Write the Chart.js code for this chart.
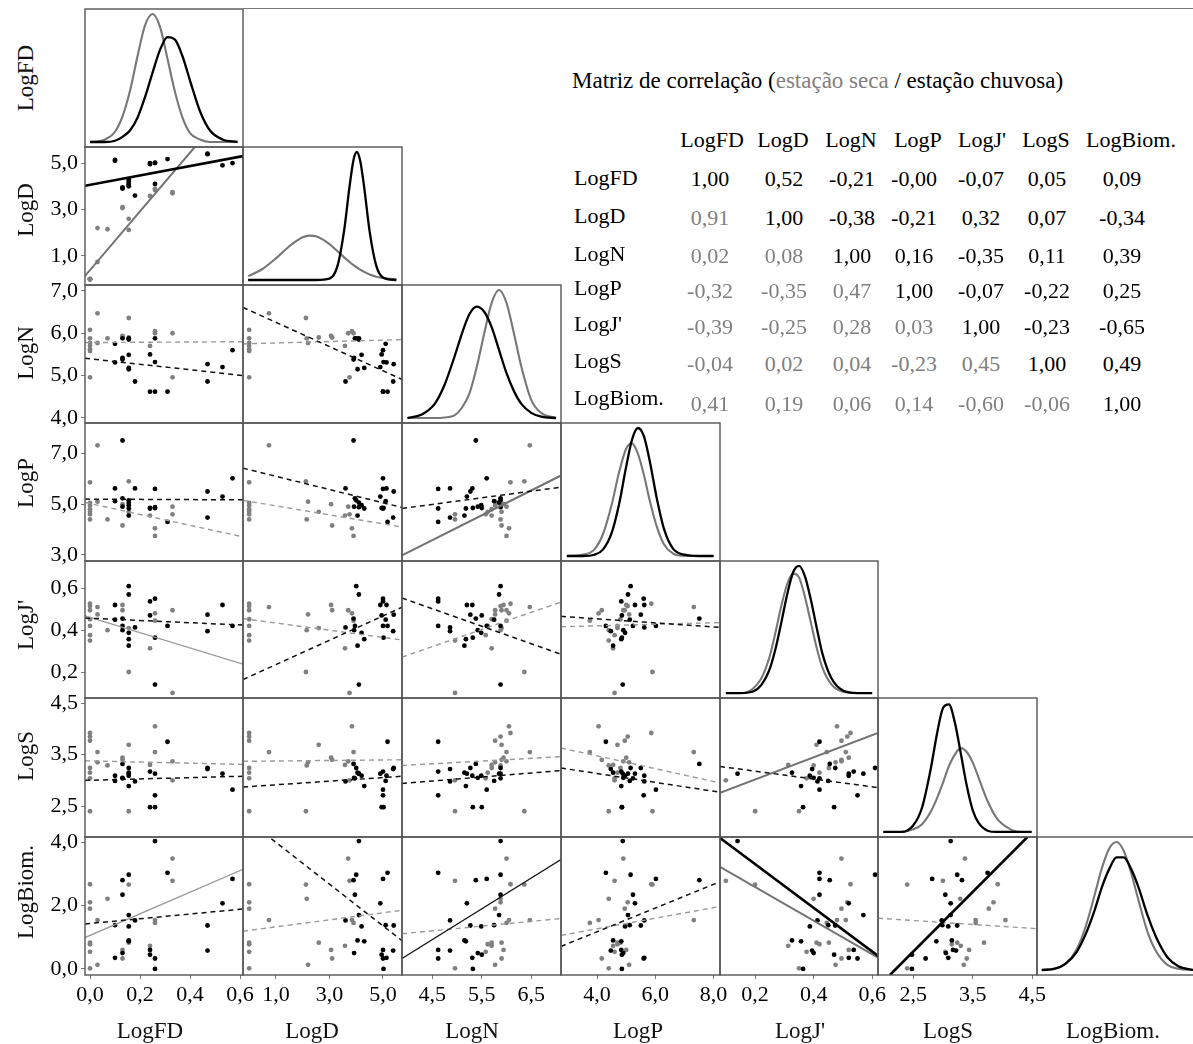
<!DOCTYPE html>
<html lang="pt">
<head>
<meta charset="utf-8">
<title>Matriz de correlação</title>
<script src="https://cdn.jsdelivr.net/npm/chart.js@4.4.1/dist/chart.umd.min.js"></script>
<style>
  html, body { margin: 0; padding: 0; background: #fff; }
  body { position: relative; width: 1193px; height: 1044px; overflow: hidden;
         font-family: 'Liberation Serif', 'Times New Roman', serif; color: #000; }
  canvas { position: absolute; }
  .txt { position: absolute; white-space: nowrap; line-height: 1; }
</style>
</head>
<body>
<script>
const variaveis = ['LogFD', 'LogD', 'LogN', 'LogP', "LogJ'", 'LogS', 'LogBiom.'];

// estação seca (cinza)
const fdSeca   = [0, 0, 0, 0, 0, 0, 0, 0.03, 0.03, 0.07, 0.13, 0.13, 0.155, 0.155, 0.24, 0.26, 0.26, 0.33, 0.33];
const dSeca    = [0, 0, 0, 0, 0, 0, 0, 0.74, 2.2, 2.15, 3.06, 3.1, 2.12, 2.6, 3.58, 3.84, 3.9, 3.7, 3.75];
const nSeca    = [6.08, 5.88, 5.77, 5.70, 5.62, 5.58, 4.96, 6.47, 5.77, 5.88, 5.94, 5.90, 6.36, 5.90, 5.70, 6.05, 6.00, 6.00, 4.96];
const pSeca    = [5.86, 5.05, 4.95, 4.8, 4.7, 4.6, 4.4, 7.32, 5.1, 4.4, 5.0, 4.16, 5.9, 4.7, 4.55, 4.05, 3.75, 4.9, 4.6];
const jSeca    = [0.526, 0.515, 0.495, 0.452, 0.42, 0.376, 0.35, 0.51, 0.475, 0.40, 0.52, 0.495, 0.20, 0.41, 0.313, 0.48, 0.445, 0.495, 0.10];
const sSeca    = [3.92, 3.85, 3.77, 3.24, 3.15, 3.04, 2.4, 3.55, 3.35, 3.29, 3.44, 3.4, 2.4, 3.69, 3.3, 4.05, 3.55, 3.37, 3.0];
const biomSeca = [2.67, 2.1, 1.9, 0.83, 0.78, 0.54, 0.02, 1.54, 0.13, 2.21, 0.6, 0.33, 2.66, 0.83, 0.73, 1.54, 1.45, 3.48, 2.78];

// estação chuvosa (preto)
const fdChuva   = [0.10, 0.10, 0.13, 0.13, 0.13, 0.155, 0.155, 0.155, 0.155, 0.155, 0.18, 0.24, 0.24, 0.26, 0.26, 0.26, 0.31, 0.47, 0.47, 0.53, 0.57];
const dChuva    = [5.13, 5.1, 3.9, 3.95, 3.92, 4.0, 4.1, 4.2, 4.3, 4.05, 3.6, 5.0, 4.95, 5.0, 4.1, 5.02, 5.17, 5.4, 5.38, 4.9, 5.0];
const nChuva    = [5.31, 5.75, 5.38, 5.88, 5.42, 5.88, 5.85, 5.49, 5.18, 5.15, 4.86, 4.62, 5.5, 4.62, 5.88, 5.32, 4.62, 5.27, 4.86, 5.2, 5.6];
const pChuva    = [5.62, 5.12, 7.51, 5.23, 4.9, 5.15, 5.06, 4.96, 4.83, 4.55, 5.62, 4.83, 4.85, 5.6, 4.88, 4.85, 4.3, 5.5, 4.47, 5.3, 6.02];
const jChuva    = [0.52, 0.45, 0.455, 0.42, 0.40, 0.61, 0.57, 0.387, 0.357, 0.326, 0.413, 0.537, 0.47, 0.55, 0.14, 0.364, 0.42, 0.474, 0.395, 0.52, 0.42];
const sChuva    = [3.09, 2.99, 3.32, 3.04, 3.05, 3.24, 3.13, 3.09, 2.89, 3.15, 2.98, 3.17, 2.48, 2.71, 3.13, 2.48, 3.75, 3.24, 3.22, 3.13, 2.82];
const biomChuva = [0.35, 1.38, 2.8, 2.34, 0.5, 2.97, 1.7, 1.34, 0.87, 0.9, 1.53, 0.6, 0.45, 0.33, 4.03, 0.0, 3.03, 1.37, 0.58, 2.07, 2.84];

const seca  = [fdSeca, dSeca, nSeca, pSeca, jSeca, sSeca, biomSeca];
const chuva = [fdChuva, dChuva, nChuva, pChuva, jChuva, sChuva, biomChuva];

// retas ajustadas: [linha, coluna, x1, y1, x2, y2, nível de significância]
const retasSeca = [
  [1, 0, -0.02, 0.14, 0.42, 5.7, 2],
  [2, 0, -0.02, 5.78, 0.612, 5.80, 0],
  [3, 0, -0.02, 5.07, 0.612, 3.71, 0],
  [4, 0, -0.02, 0.468, 0.612, 0.238, 1],
  [5, 0, -0.02, 3.38, 0.612, 3.31, 0],
  [6, 0, -0.02, 0.99, 0.612, 3.14, 1],
  [2, 1, -0.23, 5.75, 5.71, 5.85, 0],
  [3, 1, -0.23, 5.15, 5.71, 4.1, 0],
  [4, 1, -0.23, 0.455, 5.71, 0.353, 0],
  [5, 1, -0.23, 3.37, 5.71, 3.40, 0],
  [6, 1, -0.23, 1.19, 5.71, 1.85, 0],
  [3, 2, 3.89, 2.98, 7.1, 6.13, 2],
  [4, 2, 3.89, 0.271, 7.1, 0.534, 0],
  [5, 2, 3.89, 3.29, 7.1, 3.46, 0],
  [6, 2, 3.89, 1.11, 7.1, 1.59, 0],
  [4, 3, 2.76, 0.416, 8.22, 0.436, 0],
  [5, 3, 2.76, 3.63, 8.22, 2.95, 0],
  [6, 3, 2.76, 1.06, 8.22, 1.97, 0],
  [5, 4, 0.08, 2.76, 0.62, 3.92, 2],
  [6, 4, 0.08, 3.22, 0.62, 0.36, 2],
  [6, 5, 1.91, 1.6, 4.58, 1.27, 0]
];
const retasChuva = [
  [1, 0, -0.02, 4.02, 0.612, 5.3, 2],
  [2, 0, -0.02, 5.41, 0.612, 5.0, 0],
  [3, 0, -0.02, 5.2, 0.612, 5.17, 0],
  [4, 0, -0.02, 0.458, 0.612, 0.424, 0],
  [5, 0, -0.02, 3.0, 0.612, 3.08, 0],
  [6, 0, -0.02, 1.42, 0.612, 1.89, 0],
  [2, 1, -0.23, 6.61, 5.71, 4.91, 0],
  [3, 1, -0.23, 6.42, 5.71, 4.87, 0],
  [4, 1, -0.23, 0.164, 5.71, 0.509, 0],
  [5, 1, -0.23, 2.87, 5.71, 3.08, 0],
  [6, 1, -0.23, 4.8, 5.71, 0.89, 0],
  [3, 2, 3.89, 4.83, 7.1, 5.67, 0],
  [4, 2, 3.89, 0.553, 7.1, 0.285, 0],
  [5, 2, 3.89, 2.94, 7.1, 3.19, 0],
  [6, 2, 3.89, 0.33, 7.1, 3.45, 1],
  [4, 3, 2.76, 0.466, 8.22, 0.413, 0],
  [5, 3, 2.76, 3.24, 8.22, 2.77, 0],
  [6, 3, 2.76, 0.71, 8.22, 2.75, 0],
  [5, 4, 0.08, 3.27, 0.62, 2.86, 0],
  [6, 4, 0.08, 4.13, 0.62, 0.41, 2],
  [6, 5, 2.11, -0.19, 4.42, 4.16, 2]
];

// curvas de densidade da diagonal (altura relativa)
const densGrade = [
  [0.00, 0.06, 0.10, 0.13, 0.16, 0.19, 0.22, 0.25, 0.28, 0.31, 0.34, 0.37, 0.40, 0.44, 0.48, 0.53, 0.59],
  [-0.04, 0.5, 1.0, 1.5, 2.0, 2.25, 2.5, 3.0, 3.3, 3.55, 3.75, 3.9, 4.02, 4.15, 4.3, 4.5, 4.75, 5.0, 5.5],
  [4.0, 4.3, 4.55, 4.75, 4.95, 5.1, 5.25, 5.4, 5.55, 5.7, 5.85, 6.0, 6.15, 6.3, 6.5, 6.7, 7.0],
  [2.96, 3.5, 3.9, 4.2, 4.5, 4.75, 5.0, 5.2, 5.4, 5.6, 5.8, 6.05, 6.3, 6.6, 7.0, 7.5, 8.0],
  [0.10, 0.15, 0.19, 0.22, 0.25, 0.27, 0.29, 0.31, 0.33, 0.35, 0.37, 0.39, 0.41, 0.43, 0.46, 0.50, 0.55, 0.60],
  [2.0, 2.3, 2.5, 2.65, 2.8, 2.9, 3.0, 3.1, 3.2, 3.3, 3.4, 3.5, 3.6, 3.75, 3.9, 4.1, 4.3, 4.49],
  [-0.06, 0.3, 0.6, 0.9, 1.15, 1.4, 1.6, 1.8, 2.0, 2.2, 2.4, 2.6, 2.85, 3.1, 3.4, 3.7, 4.12]
];
const densSeca = [
  [0, 0.02, 0.08, 0.20, 0.40, 0.67, 0.91, 1.0, 0.90, 0.65, 0.39, 0.19, 0.07, 0.02, 0, 0, 0],
  [0.03, 0.086, 0.169, 0.264, 0.334, 0.347, 0.341, 0.281, 0.225, 0.177, 0.141, 0.116, 0.098, 0.081, 0.063, 0.043, 0.026, 0.015, 0.004],
  [0, 0, 0, 0.004, 0.02, 0.08, 0.19, 0.40, 0.66, 0.90, 1.0, 0.90, 0.66, 0.40, 0.14, 0.04, 0],
  [0, 0.01, 0.05, 0.17, 0.40, 0.65, 0.84, 0.88, 0.80, 0.64, 0.44, 0.23, 0.09, 0.02, 0, 0, 0],
  [0, 0, 0.03, 0.11, 0.29, 0.48, 0.69, 0.86, 0.94, 0.91, 0.76, 0.56, 0.36, 0.20, 0.07, 0.01, 0, 0],
  [0, 0, 0.02, 0.06, 0.16, 0.26, 0.38, 0.51, 0.60, 0.65, 0.62, 0.54, 0.42, 0.24, 0.11, 0.03, 0, 0],
  [0, 0.01, 0.05, 0.16, 0.34, 0.59, 0.80, 0.95, 1.0, 0.93, 0.76, 0.55, 0.30, 0.14, 0.04, 0.01, 0]
];
const densChuva = [
  [0, 0, 0.01, 0.04, 0.09, 0.19, 0.35, 0.54, 0.72, 0.82, 0.80, 0.67, 0.48, 0.24, 0.09, 0.02, 0],
  [0, 0, 0, 0, 0, 0, 0, 0.01, 0.11, 0.39, 0.73, 0.94, 1.0, 0.93, 0.72, 0.38, 0.11, 0.02, 0],
  [0, 0.03, 0.11, 0.26, 0.48, 0.66, 0.81, 0.87, 0.83, 0.71, 0.53, 0.35, 0.21, 0.11, 0.04, 0.01, 0],
  [0, 0, 0.01, 0.05, 0.18, 0.40, 0.70, 0.91, 1.0, 0.94, 0.75, 0.45, 0.21, 0.06, 0.01, 0, 0],
  [0, 0, 0.01, 0.06, 0.19, 0.35, 0.56, 0.78, 0.95, 1.0, 0.92, 0.74, 0.52, 0.31, 0.12, 0.02, 0, 0],
  [0, 0, 0.05, 0.19, 0.50, 0.76, 0.96, 0.99, 0.85, 0.61, 0.36, 0.17, 0.07, 0.01, 0, 0, 0, 0],
  [0, 0.01, 0.05, 0.14, 0.28, 0.47, 0.65, 0.79, 0.88, 0.88, 0.79, 0.65, 0.43, 0.25, 0.10, 0.03, 0]
];

// matriz de correlação (abaixo da diagonal: seca; acima: chuvosa)
const corr = [
  [ 1.00,  0.52, -0.21, -0.00, -0.07,  0.05,  0.09],
  [ 0.91,  1.00, -0.38, -0.21,  0.32,  0.07, -0.34],
  [ 0.02,  0.08,  1.00,  0.16, -0.35,  0.11,  0.39],
  [-0.32, -0.35,  0.47,  1.00, -0.07, -0.22,  0.25],
  [-0.39, -0.25,  0.28,  0.03,  1.00, -0.23, -0.65],
  [-0.04,  0.02,  0.04, -0.23,  0.45,  1.00,  0.49],
  [ 0.41,  0.19,  0.06,  0.14, -0.60, -0.06,  1.00]
];

// limites e marcas dos eixos
const limX = [[-0.02, 0.612], [-0.23, 5.71], [3.89, 7.1], [2.76, 8.22], [0.08, 0.62], [1.91, 4.58], [-0.19, 4.16]];
const limY = [[-0.02, 0.612], [-0.25, 5.69], [3.88, 7.14], [2.76, 8.2], [0.076, 0.73], [1.9, 4.6], [-0.19, 4.16]];
const ticksX = [[0, 0.2, 0.4, 0.6], [1, 3, 5], [4.5, 5.5, 6.5], [4, 6, 8], [0.2, 0.4, 0.6], [2.5, 3.5, 4.5], []];
const ticksY = [[], [1, 3, 5], [4, 5, 6, 7], [3, 5, 7], [0.2, 0.4, 0.6], [2.5, 3.5, 4.5], [0, 2, 4]];

// geometria da grade de painéis
const colX = [85, 243, 402, 561, 720, 878, 1037, 1195];
const rowY = [9, 147, 285, 423, 561, 698, 837, 975];
const M = 20, AW = 62, AH = 46;
const fonte = "'Liberation Serif', 'Times New Roman', serif";
const CINZA = '#808080';

const moldura = {
  id: 'moldura',
  afterDraw(chart) {
    const { ctx, chartArea: a } = chart;
    ctx.save();
    ctx.strokeStyle = '#555';
    ctx.lineWidth = 1.4;
    ctx.strokeRect(a.left, a.top, a.right - a.left, a.bottom - a.top);
    ctx.restore();
  }
};

function eixo(lim, ticks, mostra, lado) {
  const cfg = {
    type: 'linear', min: lim[0], max: lim[1], display: mostra,
    afterBuildTicks: s => { s.ticks = ticks.map(v => ({ value: v })); },
    grid: { drawOnChartArea: false, drawTicks: true, tickLength: 4, color: '#777' },
    border: { display: false },
    ticks: {
      font: { family: fonte, size: 22 }, color: '#000', padding: 3,
      autoSkip: false, maxRotation: 0, minRotation: 0,
      callback: v => v.toFixed(1).replace('.', ',')
    }
  };
  if (mostra) cfg.afterFit = s => { if (lado === 'x') s.height = AH; else s.width = AW; };
  return cfg;
}

function novoCanvas(r, c, temX, temY) {
  const x0 = colX[c], x1 = colX[c + 1], y0 = rowY[r], y1 = rowY[r + 1];
  const cv = document.createElement('canvas');
  const w = (x1 - x0) + 2 * M + (temY ? AW : 0);
  const h = (y1 - y0) + 2 * M + (temX ? AH : 0);
  cv.width = w; cv.height = h;
  cv.style.width = w + 'px'; cv.style.height = h + 'px';
  cv.style.left = (x0 - M - (temY ? AW : 0)) + 'px';
  cv.style.top = (y0 - M) + 'px';
  document.body.appendChild(cv);
  return cv;
}

const base = {
  responsive: false, animation: false, devicePixelRatio: 1, events: [],
  layout: { padding: M },
  plugins: { legend: { display: false }, tooltip: { enabled: false } }
};

function estiloReta(estacao, nivel) {
  if (estacao === 'seca') {
    if (nivel === 2) return { borderColor: '#737373', borderWidth: 2, borderDash: [] };
    if (nivel === 1) return { borderColor: '#9a9a9a', borderWidth: 1.3, borderDash: [] };
    return { borderColor: '#9a9a9a', borderWidth: 1.4, borderDash: [5, 4] };
  }
  if (nivel === 2) return { borderColor: '#000', borderWidth: 2.6, borderDash: [] };
  if (nivel === 1) return { borderColor: '#111', borderWidth: 1.3, borderDash: [] };
  return { borderColor: '#111', borderWidth: 1.5, borderDash: [5, 4] };
}

function reta(lista, r, c, estacao) {
  const e = lista.find(l => l[0] === r && l[1] === c);
  return Object.assign({
    data: [{ x: e[2], y: e[3] }, { x: e[4], y: e[5] }],
    showLine: true, pointRadius: 0, fill: false
  }, estiloReta(estacao, e[6]));
}

function pontos(amostras, r, c, cor) {
  return {
    data: amostras[c].map((v, i) => ({ x: v, y: amostras[r][i] })),
    pointRadius: 2.4, pointBackgroundColor: cor, pointBorderWidth: 0, showLine: false
  };
}

function dispersao(r, c) {
  const temX = r === 6, temY = c === 0;
  const cv = novoCanvas(r, c, temX, temY);
  new Chart(cv, {
    type: 'scatter',
    data: {
      datasets: [
        reta(retasChuva, r, c, 'chuva'),
        reta(retasSeca, r, c, 'seca'),
        pontos(chuva, r, c, '#000'),
        pontos(seca, r, c, CINZA)
      ]
    },
    options: Object.assign({}, base, {
      scales: {
        x: eixo(limX[c], ticksX[c], temX, 'x'),
        y: eixo(limY[r], ticksY[r], temY, 'y')
      }
    }),
    plugins: [moldura]
  });
}

function diagonal(k) {
  const cv = novoCanvas(k, k, false, false);
  const g = densGrade[k];
  new Chart(cv, {
    type: 'line',
    data: {
      datasets: [
        { data: g.map((x, i) => ({ x, y: densChuva[k][i] })), borderColor: '#000', borderWidth: 2.3 },
        { data: g.map((x, i) => ({ x, y: densSeca[k][i] })), borderColor: '#777', borderWidth: 2.1 }
      ]
    },
    options: Object.assign({}, base, {
      elements: { point: { radius: 0 }, line: { cubicInterpolationMode: 'monotone', fill: false } },
      scales: {
        x: { type: 'linear', min: limX[k][0], max: limX[k][1], display: false },
        y: { type: 'linear', min: -0.039, max: 1.039, display: false }
      }
    }),
    plugins: [moldura]
  });
}

for (let k = 0; k < 7; k++) diagonal(k);
for (let r = 1; r < 7; r++) for (let c = 0; c < r; c++) dispersao(r, c);

// linha superior que fecha a figura
const topo = document.createElement('div');
Object.assign(topo.style, { position: 'absolute', left: '243px', top: '8px', width: '950px', height: '1px', background: '#777' });
document.body.appendChild(topo);

function texto(s, x, y, tam, opc) {
  const d = document.createElement('div');
  d.className = 'txt';
  d.innerHTML = s;
  d.style.fontSize = tam + 'px';
  d.style.left = x + 'px';
  d.style.top = y + 'px';
  d.style.color = (opc && opc.cor) || '#000';
  d.style.transform = (opc && opc.transf) || 'translate(-50%, -50%)';
  document.body.appendChild(d);
  return d;
}

// títulos das linhas e colunas
const rotLinhaY = [78, 210, 353, 483, 625, 756, 892];
const rotColX = [150, 312, 472, 638, 800, 948, 1113];
variaveis.forEach((v, i) => {
  texto(v, 25, rotLinhaY[i], 23, { cor: '#111', transf: 'translate(-50%, -50%) rotate(-90deg)' });
  texto(v, rotColX[i], 1030, 23, { cor: '#111' });
});

// tabela de correlação
texto('Matriz de correlação (<span style="color:' + CINZA + '">estação seca</span> / estação chuvosa)',
  572, 80, 23, { transf: 'translate(0, -50%)' });
const cabX = [712, 783, 851, 918, 982, 1046, 1131];
const valX = [710, 784, 852, 914, 981, 1047, 1122];
const linY = [178, 216, 254, 288, 324, 361, 398];
const valY = [179, 218, 256, 291, 327, 364, 404];
const fmt2 = v => (Object.is(v, -0) ? '-' : '') + v.toFixed(2).replace('.', ',');
variaveis.forEach((v, j) => texto(v, cabX[j], 140, 22));
corr.forEach((linha, i) => {
  texto(variaveis[i], 574, linY[i], 22, { transf: 'translate(0, -50%)' });
  linha.forEach((v, j) => texto(fmt2(v), valX[j], valY[i], 22, { cor: j < i ? CINZA : '#000' }));
});
</script>
</body>
</html>
